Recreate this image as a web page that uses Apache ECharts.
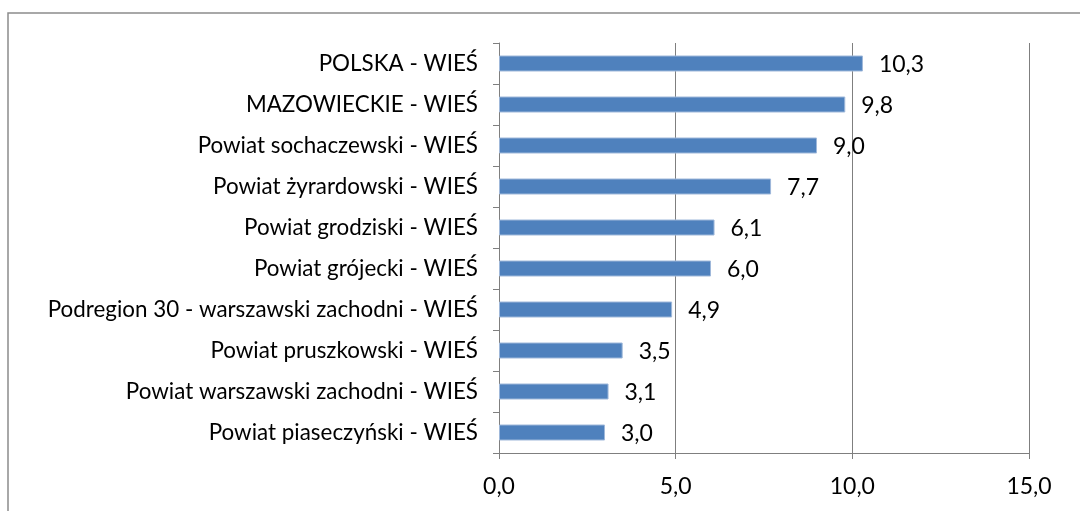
<!DOCTYPE html>
<html>
<head>
<meta charset="utf-8">
<script src="https://cdn.jsdelivr.net/npm/echarts@6/dist/echarts.min.js"></script>
<style>
  html, body { margin: 0; padding: 0; background: #fff; }
  #chart { width: 1080px; height: 511px; }
</style>
</head>
<body>
<div id="chart"></div>
<script>
// dane (od góry do dołu)
const categories = [
  'POLSKA - WIEŚ',
  'MAZOWIECKIE - WIEŚ',
  'Powiat sochaczewski - WIEŚ',
  'Powiat żyrardowski - WIEŚ',
  'Powiat grodziski - WIEŚ',
  'Powiat grójecki - WIEŚ',
  'Podregion 30 - warszawski zachodni - WIEŚ',
  'Powiat pruszkowski - WIEŚ',
  'Powiat warszawski zachodni - WIEŚ',
  'Powiat piaseczyński - WIEŚ'
];
const values = [10.3, 9.8, 9.0, 7.7, 6.1, 6.0, 4.9, 3.5, 3.1, 3.0];

const fmt = (v) => v.toFixed(1).replace('.', ',');
const font = 'Lato, sans-serif';
const gray = '#7f7f7f';

const chart = echarts.init(document.getElementById('chart'));

chart.setOption({
  animation: false,
  graphic: [{
    type: 'rect',
    shape: { x: 8, y: 13, width: 1200, height: 600 },
    style: { fill: 'none', stroke: '#8c8c8c', lineWidth: 1.5 }
  }],
  grid: { left: 499, right: 51, top: 43, bottom: 58 },
  xAxis: {
    type: 'value',
    min: 0,
    max: 15,
    interval: 5,
    axisLine: { show: true, lineStyle: { color: gray, width: 1 } },
    axisTick: { show: true, length: 6, lineStyle: { color: gray } },
    splitLine: { show: true, lineStyle: { color: gray, width: 1 } },
    axisLabel: {
      color: '#000',
      fontSize: 23,
      fontFamily: font,
      margin: 22,
      formatter: (v) => fmt(v)
    }
  },
  yAxis: {
    type: 'category',
    inverse: true,
    data: categories,
    axisLine: { show: true, lineStyle: { color: gray, width: 1 } },
    axisTick: { show: true, length: 6, lineStyle: { color: gray } },
    axisLabel: {
      color: '#000',
      fontSize: 22.4,
      fontFamily: font,
      margin: 21
    }
  },
  series: [{
    type: 'bar',
    data: values,
    barWidth: 16,
    itemStyle: { color: '#4f81bd', borderColor: '#9fb8da', borderWidth: 1 },
    label: {
      show: true,
      position: 'right',
      distance: 16,
      color: '#000',
      fontSize: 23,
      fontFamily: font,
      offset: [0, 1],
      formatter: (p) => fmt(p.value)
    }
  }]
});
</script>
</body>
</html>
